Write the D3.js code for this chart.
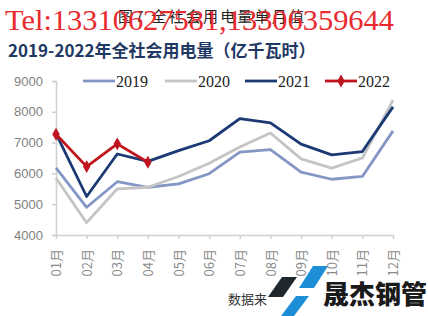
<!DOCTYPE html>
<html>
<head>
<meta charset="utf-8">
<script src="https://cdn.jsdelivr.net/npm/d3@7"></script>
<style>
  body { margin: 0; background: #fff; }
  svg { display: block; }
</style>
</head>
<body>
<svg id="chart" width="428" height="316"></svg>
<script>
const months = ['01月','02月','03月','04月','05月','06月','07月','08月','09月','10月','11月','12月'];
const years = ['2019','2020','2021','2022'];
const v2019 = [6180, 4900, 5730, 5550, 5660, 5990, 6690, 6770, 6040, 5810, 5900, 7380];
const v2020 = [5850, 4400, 5500, 5550, 5900, 6330, 6860, 7310, 6470, 6170, 6500, 8380];
const v2021 = [7290, 5250, 6630, 6390, 6740, 7060, 7780, 7640, 6950, 6600, 6710, 8160];
const v2022 = [7270, 6220, 6960, 6360];
const yTicks = [4000, 5000, 6000, 7000, 8000, 9000];

const colors = { '2019': '#8497c4', '2020': '#c4c4c4', '2021': '#1b3a74', '2022': '#c0141e' };
const seriesData = { '2019': v2019, '2020': v2020, '2021': v2021, '2022': v2022 };

const svg = d3.select('#chart');

// figure caption, with the red phone watermark printed over it
svg.append('text')
  .attr('x', 118).attr('y', 22)
  .attr('textLength', 186)
  .style('font-family', '"Noto Sans CJK SC", serif')
  .style('font-size', '15px')
  .style('fill', '#222')
  .text('图7 全社会用电量单月值');

svg.append('text')
  .attr('x', 5).attr('y', 30)
  .attr('textLength', 389)
  .attr('lengthAdjust', 'spacingAndGlyphs')
  .style('font-family', '"Liberation Serif", serif')
  .style('font-size', '29px')
  .style('fill', '#ea2a2e')
  .text('Tel:13310627581,13306359644');

svg.append('text')
  .attr('x', 8).attr('y', 57)
  .style('font-family', '"Noto Sans CJK SC", sans-serif')
  .style('font-weight', 'bold')
  .style('font-size', '17px')
  .style('fill', '#1f3864')
  .text('2019-2022年全社会用电量（亿千瓦时）');

const x = d3.scalePoint().domain(months).range([56, 393]);
const y = d3.scaleLinear().domain([4000, 9000]).range([235, 81]);

const yAxis = svg.append('g')
  .attr('transform', 'translate(56,0)')
  .call(d3.axisLeft(y).tickValues(yTicks).tickSize(4).tickPadding(9).tickFormat(d3.format('d')));
yAxis.select('.domain').attr('stroke', '#d0d0d0').attr('stroke-width', 1.5);
yAxis.selectAll('.tick line').attr('stroke', '#d0d0d0').attr('stroke-width', 1.5);
yAxis.selectAll('.tick text')
  .style('font-family', '"Liberation Sans", Arial, sans-serif')
  .style('font-size', '13px')
  .style('fill', '#7f7f7f');

const xAxis = svg.append('g')
  .attr('transform', 'translate(0,235)')
  .call(d3.axisBottom(x).tickSize(4).tickSizeOuter(0));
xAxis.select('.domain').attr('stroke', '#d0d0d0').attr('stroke-width', 1.5);
xAxis.selectAll('.tick line').attr('stroke', '#d0d0d0').attr('stroke-width', 1.5);
xAxis.selectAll('.tick text')
  .attr('transform', 'rotate(-90)')
  .attr('x', -14).attr('y', 0).attr('dy', '0.35em')
  .attr('text-anchor', 'end')
  .style('font-family', '"Noto Sans CJK SC", sans-serif')
  .style('font-size', '13px')
  .style('fill', '#8a8a8a');

const line = d3.line()
  .x((d, i) => x(months[i]))
  .y(d => y(d));

years.forEach(yr => {
  svg.append('path')
    .datum(seriesData[yr])
    .attr('d', line)
    .attr('fill', 'none')
    .attr('stroke', colors[yr])
    .attr('stroke-width', 2.8)
    .attr('stroke-linejoin', 'round');
});

const diamond = d3.symbol().type(d3.symbolDiamond).size(48);
svg.selectAll('.pt2022')
  .data(v2022)
  .enter().append('path')
  .attr('class', 'pt2022')
  .attr('transform', (d, i) => `translate(${x(months[i])},${y(d)})`)
  .attr('d', diamond)
  .attr('fill', colors['2022']);

// legend
const legendX = [83, 165, 245, 325];
const legend = svg.append('g');
years.forEach((yr, i) => {
  const g = legend.append('g').attr('transform', `translate(${legendX[i]},81)`);
  g.append('line').attr('x1', 0).attr('x2', 32).attr('y1', 0).attr('y2', 0)
    .attr('stroke', colors[yr]).attr('stroke-width', 2.8);
  if (yr === '2022') {
    g.append('path').attr('transform', 'translate(16,0)').attr('d', diamond).attr('fill', colors[yr]);
  }
  g.append('text').attr('x', 33).attr('y', 0).attr('dy', '0.35em')
    .style('font-family', '"Liberation Serif", serif')
    .style('font-size', '16px')
    .style('fill', '#222')
    .text(yr);
});

// source + logo
svg.append('text')
  .attr('x', 228).attr('y', 304)
  .style('font-family', '"Noto Sans CJK SC", serif')
  .style('font-size', '13px')
  .style('fill', '#333')
  .text('数据来');

const logo = svg.append('g');
logo.append('polygon').attr('points', '282,277 297,277 283,297 268,297').attr('fill', '#20282e');
logo.append('polygon').attr('points', '313,266 328,266 314,288 299,288').attr('fill', '#1e8ed6');
logo.append('polygon').attr('points', '296,296 309,296 294,316 281,316').attr('fill', '#1e8ed6');
logo.append('text')
  .attr('x', 323).attr('y', 304)
  .attr('textLength', 104)
  .style('font-family', '"Noto Sans CJK SC", sans-serif')
  .style('font-weight', '900')
  .style('font-size', '26px')
  .style('fill', '#1a1a1a')
  .text('晟杰钢管');
</script>
</body>
</html>
